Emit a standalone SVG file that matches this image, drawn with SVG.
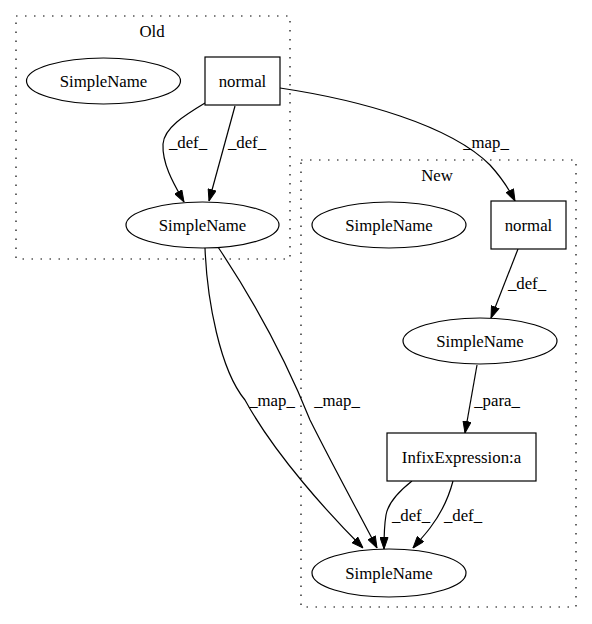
<svg xmlns="http://www.w3.org/2000/svg" width="592" height="624" viewBox="0 0 592 624">
<defs>
<marker id="ah" markerWidth="12" markerHeight="9" refX="12" refY="4.5" orient="auto" markerUnits="userSpaceOnUse">
<path d="M0.5,0.5 L12,4.5 L0.5,8.5 Z" fill="#000" stroke="#000"/>
</marker>
<style>
text{font-family:"Liberation Serif","Times New Roman",serif;font-size:16.8px;fill:#000;text-anchor:middle}
.cl{fill:none;stroke:#000;stroke-width:1.2;stroke-dasharray:1.5,7.5}
.n{fill:#fff;stroke:#000;stroke-width:1.2}
.e{fill:none;stroke:#000;stroke-width:1.2;marker-end:url(#ah)}
</style>
</defs>
<rect width="592" height="624" fill="#fff"/>
<g id="cluster_old">
<rect class="cl" x="16" y="16" width="274" height="243"/>
<text x="152" y="37">Old</text>
</g>
<g id="cluster_new">
<rect class="cl" x="301" y="160" width="275" height="447"/>
<text x="437" y="181">New</text>
</g>
<g id="connectors">
<path class="e" d="M205,103 C185,115 164,128 163,144 C162,165 175,186 184,202"/>
<path class="e" d="M235,106 L209,201"/>
<path class="e" d="M280,88 C360,100 450,125 490,165 C500,176 509,189 515,201"/>
<path class="e" d="M205,248 C207,300 220,370 245,400 C275,455 330,515 363,548"/>
<path class="e" d="M218,247 C260,310 290,370 310,420 C335,470 360,515 377,548"/>
<path class="e" d="M518,249 L491,318"/>
<path class="e" d="M477,365 L465,433"/>
<path class="e" d="M412,481 C398,492 388,503 386,515 C384,527 384,538 384,549"/>
<path class="e" d="M453,481 C448,500 440,515 430,528 C424,536 418,542 413,548"/>
<text x="188" y="148">_def_</text>
<text x="247" y="148">_def_</text>
<text x="486" y="148">_map_</text>
<text x="527" y="289">_def_</text>
<text x="497" y="406">_para_</text>
<text x="272" y="406">_map_</text>
<text x="337" y="406">_map_</text>
<text x="411" y="521">_def_</text>
<text x="463" y="521">_def_</text>
</g>
<g id="old_simplename_1">
<ellipse class="n" cx="103.5" cy="81" rx="77" ry="23"/>
<text x="103.5" y="87">SimpleName</text>
</g>
<g id="old_normal">
<rect class="n" x="205" y="57" width="75" height="48"/>
<text x="242.5" y="87">normal</text>
</g>
<g id="old_simplename_2">
<ellipse class="n" cx="202.5" cy="225" rx="76.5" ry="23"/>
<text x="202.5" y="231">SimpleName</text>
</g>
<g id="new_simplename_1">
<ellipse class="n" cx="389" cy="225" rx="77" ry="23"/>
<text x="389" y="231">SimpleName</text>
</g>
<g id="new_normal">
<rect class="n" x="491" y="201" width="75" height="48"/>
<text x="528.5" y="231">normal</text>
</g>
<g id="new_simplename_2">
<ellipse class="n" cx="480" cy="341" rx="77" ry="23"/>
<text x="480" y="347">SimpleName</text>
</g>
<g id="new_infix">
<rect class="n" x="387" y="433" width="149" height="48"/>
<text x="461.5" y="463">InfixExpression:a</text>
</g>
<g id="new_simplename_3">
<ellipse class="n" cx="389" cy="573" rx="77" ry="24"/>
<text x="389" y="579">SimpleName</text>
</g>
</svg>
